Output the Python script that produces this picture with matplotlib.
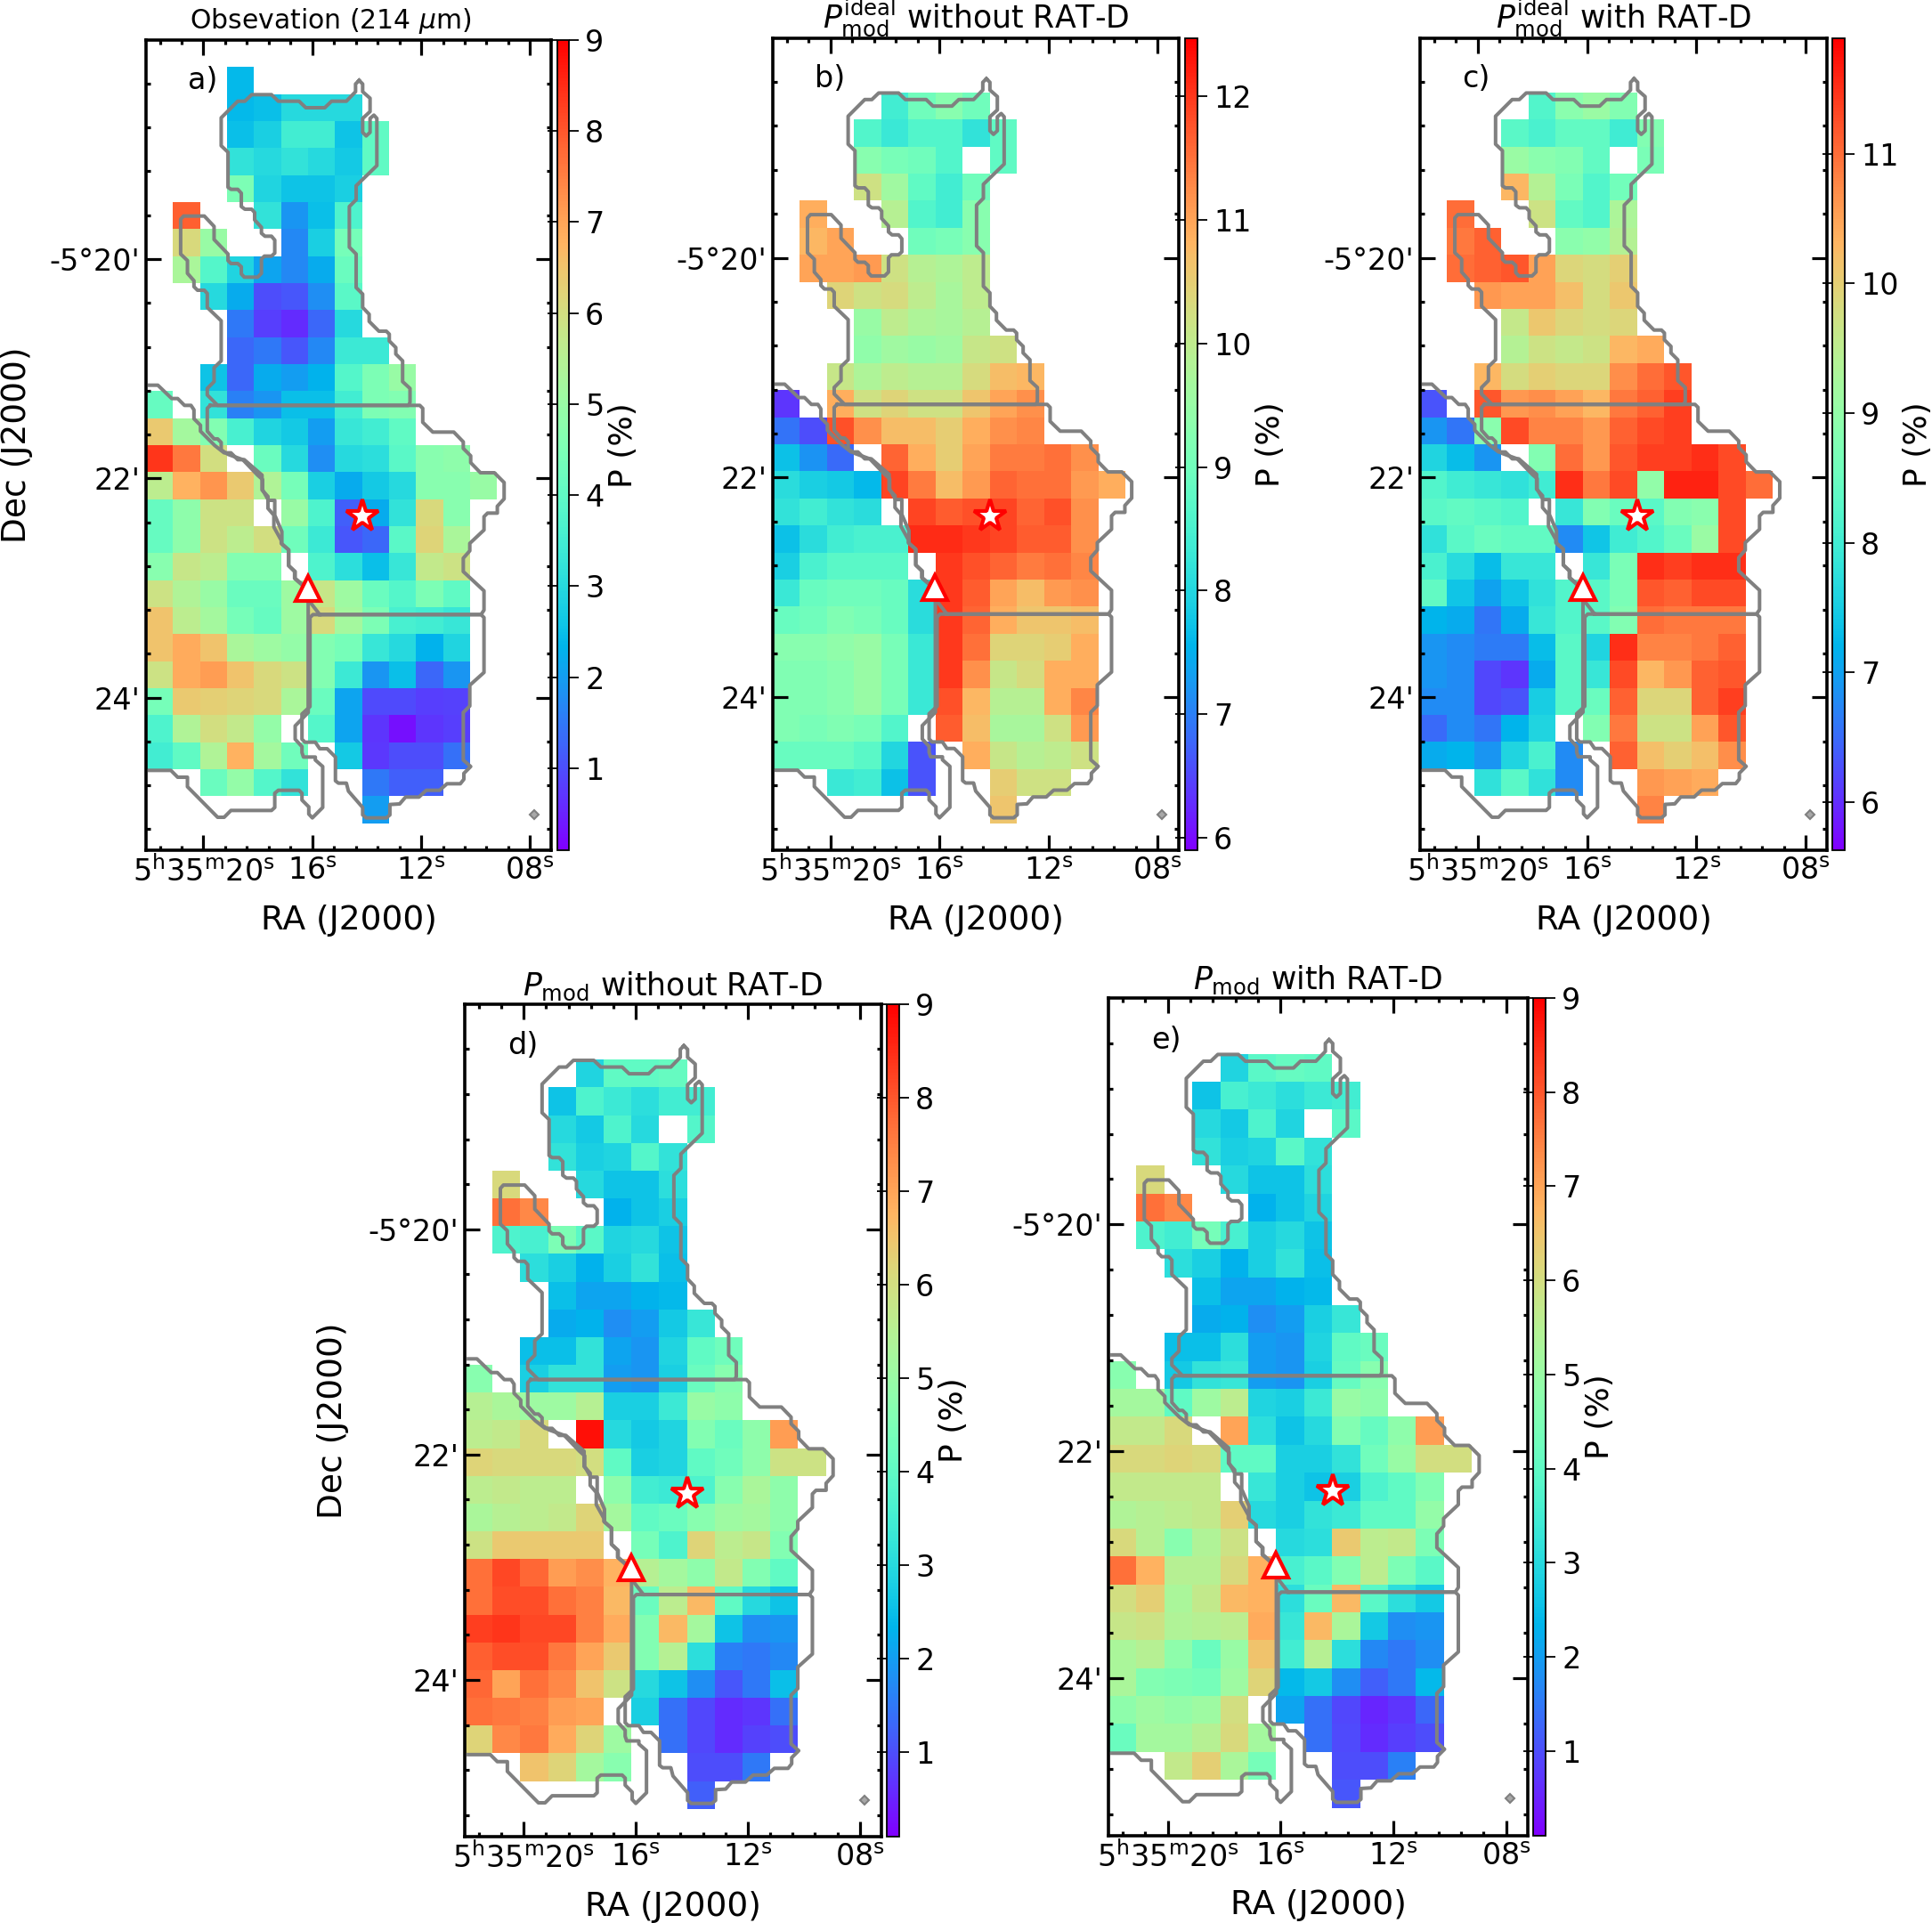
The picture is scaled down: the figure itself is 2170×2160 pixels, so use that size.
import numpy as np
import matplotlib
matplotlib.use("Agg")
import matplotlib.pyplot as plt

n = np.nan

# Polarization degree (%) per map cell; rows 1..28 of the 30x15 map, each from column 0
obs_rows = [
 [n,n,n,2.4],
 [n,n,n,2.4,2.5,3.0,3.0,3.0],
 [n,n,n,2.5,2.8,3.5,3.5,2.6,4.0],
 [n,n,n,3.2,3.0,3.2,3.0,2.7,4.0],
 [n,n,n,4.5,2.9,2.6,2.6,2.8],
 [n,7.9,n,n,3.2,1.9,2.5,3.7],
 [n,6.1,5.0,n,n,1.7,2.8,4.4],
 [n,5.3,3.8,2.9,2.1,1.7,2.2,4.2],
 [n,n,3.0,2.2,1.0,1.1,1.8,3.9],
 [n,n,n,1.5,0.8,0.6,1.3,3.0],
 [n,n,n,1.3,1.5,1.1,1.7,3.4,3.4],
 [n,n,2.6,1.3,2.2,2.0,2.3,3.8,4.5,5.0],
 [4.1,n,3.2,1.6,1.9,2.5,2.5,3.5,4.5,4.6],
 [6.4,5.2,4.6,3.6,2.9,2.7,2.0,3.3,3.5,4.0],
 [8.4,7.6,6.0,n,4.2,3.0,1.8,3.0,3.1,3.9,4.7,4.8],
 [5.6,6.8,7.2,6.4,5.4,4.4,2.8,2.2,2.7,3.0,4.7,4.7,5.0],
 [4.1,4.8,5.9,5.9,n,5.0,3.7,1.2,2.2,3.2,6.1,4.7],
 [4.1,4.8,5.9,5.6,6.0,4.3,3.4,1.1,1.3,3.9,6.2,5.3],
 [4.7,5.8,5.6,4.6,4.6,n,3.7,3.1,2.5,3.3,5.7,5.9],
 [5.9,5.4,5.0,4.2,4.2,5.1,5.8,5.1,4.2,3.8,4.5,4.0],
 [6.5,5.6,5.2,4.4,4.1,5.1,6.1,5.2,4.5,3.6,3.5,3.3],
 [6.5,6.9,6.5,5.3,5.1,4.9,4.6,4.4,3.3,3.0,2.3,2.9],
 [5.9,6.9,7.1,6.5,6.1,5.9,4.6,3.4,1.9,2.5,1.3,1.9],
 [4.4,6.4,6.3,6.2,6.1,5.3,4.2,2.1,0.95,0.95,0.8,0.85],
 [3.7,5.4,6.0,5.7,4.9,n,3.8,2.1,0.7,0.3,0.7,0.8],
 [3.5,4.0,5.4,6.8,5.2,4.3,n,2.7,0.75,1.0,1.0,1.4],
 [n,n,4.2,4.9,3.8,3.2,n,n,1.5,1.2,1.2],
 [n,n,n,n,n,n,n,n,2.0],
]
ideal_no_ratd_rows = [
 [],
 [n,n,n,n,8.4,9.0,9.3,9.0],
 [n,n,n,8.6,8.3,8.6,8.6,8.2,8.8],
 [n,n,n,9.3,9.1,9.0,8.6,n,8.8],
 [n,n,n,10.2,9.6,8.8,8.4,9.0],
 [n,10.9,n,n,9.9,8.6,8.4,9.3],
 [n,10.8,11.0,n,n,9.0,9.1,9.3],
 [n,11.0,11.0,11.1,10.2,9.9,9.8,10.0],
 [n,n,10.4,10.2,10.3,10.0,9.7,10.0],
 [n,n,n,9.5,10.0,9.8,9.7,9.9],
 [n,n,n,9.4,9.6,9.5,9.6,10.1,10.2],
 [n,n,10.1,9.8,10.0,9.9,9.9,10.3,10.7,10.8],
 [6.35,n,10.9,10.2,10.4,10.2,10.2,10.6,11.0,11.2],
 [6.9,6.55,11.8,11.2,10.7,10.7,10.5,10.9,11.2,11.3],
 [7.7,7.2,6.8,n,11.6,10.9,10.5,11.0,11.4,11.4,11.5,11.2],
 [8.1,7.9,7.8,7.6,11.9,11.4,10.7,11.1,11.6,11.5,11.5,11.1,10.9],
 [8.2,8.4,8.2,8.1,n,11.9,11.7,11.8,11.9,11.6,11.8,11.2],
 [7.7,8.1,8.4,8.5,8.5,12.1,12.1,12.0,11.9,11.7,11.7,11.2],
 [7.9,8.5,8.7,8.7,8.7,n,12.0,11.8,11.6,11.4,11.5,11.3],
 [8.3,8.9,9.0,9.0,8.9,8.1,12.0,11.7,11.0,10.7,11.1,11.2],
 [8.9,9.0,9.2,9.1,8.9,8.1,12.0,11.6,10.9,10.6,10.6,10.7],
 [9.3,9.3,9.4,9.5,9.1,8.3,12.0,11.5,10.4,10.4,10.5,10.9],
 [9.2,9.2,9.3,9.5,9.1,8.3,12.0,11.2,10.1,10.3,10.9,10.9],
 [9.2,9.2,9.3,9.5,9.1,8.3,11.8,10.8,9.9,9.9,10.9,11.3],
 [9.2,9.1,9.2,9.1,8.6,n,11.7,10.7,9.7,9.7,10.2,11.1],
 [8.9,8.9,8.9,8.7,8.0,6.6,n,10.9,10.1,9.9,10.0,10.2],
 [n,n,8.3,8.4,7.7,6.6,n,n,10.5,10.2,10.2],
 [n,n,n,n,n,n,n,n,10.6],
]
ideal_ratd_rows = [
 [],
 [n,n,n,n,8.2,8.9,9.1,8.8],
 [n,n,n,8.3,8.1,8.4,8.4,8.0,8.8],
 [n,n,n,9.1,8.9,8.8,8.4,n,8.7],
 [n,n,n,10.3,9.4,8.7,8.2,8.6],
 [n,11.0,n,n,9.7,8.4,8.2,9.3],
 [n,10.9,11.1,n,n,8.9,9.0,9.4],
 [n,11.0,11.1,11.2,10.5,9.9,9.8,10.0],
 [n,n,10.6,10.5,10.5,10.2,9.8,10.1],
 [n,n,n,9.6,10.1,9.9,9.8,9.9],
 [n,n,n,9.4,9.7,9.6,9.7,10.3,10.4],
 [n,n,10.3,9.8,10.0,9.9,9.9,10.7,11.0,11.2],
 [6.3,n,11.2,10.6,10.7,10.5,10.3,10.9,11.1,11.4],
 [6.9,6.6,8.9,11.3,10.8,10.8,10.6,11.1,11.3,11.4],
 [7.6,7.3,6.9,n,8.8,11.0,10.6,11.2,11.4,11.4,11.5,11.3],
 [8.2,8.0,7.9,7.8,8.0,11.5,10.9,11.3,9.0,11.6,11.6,11.3,11.0],
 [8.3,8.4,8.3,8.2,n,7.9,8.8,8.5,8.3,8.8,8.9,11.3],
 [7.8,8.3,8.5,8.4,8.4,6.8,7.4,8.0,8.2,8.5,9.1,11.3],
 [8.1,7.7,7.3,7.9,7.9,n,7.9,8.7,11.5,11.4,11.5,11.5],
 [8.4,7.4,7.0,7.4,7.8,8.2,8.3,8.7,11.2,11.1,11.3,11.3],
 [7.2,7.1,6.6,7.1,7.9,8.2,8.3,8.8,11.0,10.9,10.9,10.9],
 [6.9,6.8,6.65,6.65,7.3,8.3,7.6,11.5,10.8,10.8,10.9,11.1],
 [6.9,6.8,6.2,6.05,7.1,8.3,7.9,11.3,10.3,10.6,11.1,11.2],
 [6.8,6.8,6.2,6.3,7.5,8.3,8.5,11.1,9.9,9.9,11.1,11.4],
 [6.5,6.8,6.6,7.2,7.6,n,8.8,10.9,9.7,9.7,10.5,11.2],
 [7.1,7.2,6.9,7.6,8.1,6.8,n,11.1,10.2,10.0,10.2,10.7],
 [n,n,7.8,8.3,7.8,6.8,n,n,10.6,10.5,10.4],
 [n,n,n,n,n,n,n,n,10.8],
]
mod_no_ratd_rows = [
 [],
 [n,n,n,n,2.9,4.0,4.0,4.1],
 [n,n,n,2.6,3.7,3.4,3.1,3.5,3.5],
 [n,n,n,3.0,2.7,3.7,3.0,n,3.8],
 [n,n,n,3.2,2.8,2.9,3.8,3.2],
 [n,6.1,n,n,3.0,2.6,2.6,3.1],
 [n,7.7,7.4,n,n,2.3,2.6,2.8],
 [n,3.7,3.6,4.5,3.9,2.9,3.0,2.6],
 [n,n,3.1,2.8,2.3,2.8,3.2,2.5],
 [n,n,n,2.5,2.1,2.1,2.3,2.4],
 [n,n,n,2.2,2.3,1.8,2.0,2.7,3.3],
 [n,n,2.5,2.5,3.2,2.1,1.9,2.9,4.0,4.3],
 [4.7,n,2.8,3.2,3.2,2.0,1.9,2.8,4.2,4.7],
 [5.5,5.3,5.1,5.1,5.5,2.8,2.8,3.4,5.0,4.8],
 [5.6,5.7,6.1,n,8.8,3.0,2.7,2.9,4.6,4.2,4.8,7.1],
 [6.2,6.1,6.1,6.1,6.0,4.0,2.8,2.9,4.0,4.3,4.8,5.9,5.9],
 [5.6,5.7,5.6,5.6,n,4.8,3.5,3.4,3.7,4.7,5.3,4.8],
 [5.3,5.5,5.6,5.7,6.2,5.2,4.0,4.2,4.7,5.1,5.2,4.8],
 [5.9,6.4,6.4,6.4,6.4,n,4.4,3.7,6.2,5.6,5.8,4.6],
 [7.7,8.2,7.8,7.1,7.3,6.8,5.5,5.2,4.8,5.7,4.6,4.0],
 [7.7,8.1,8.1,7.7,7.5,6.7,4.2,5.6,6.7,4.0,3.0,2.6],
 [8.3,8.4,8.2,8.2,7.5,6.9,4.6,6.7,5.2,2.6,1.8,1.9],
 [7.9,8.1,8.1,7.6,7.0,6.4,4.6,5.5,3.1,1.6,1.5,1.7],
 [7.8,7.0,7.7,7.4,6.5,5.9,3.0,2.6,1.8,1.1,1.5,2.5],
 [7.7,7.6,7.5,7.1,7.0,n,2.8,1.4,0.9,0.6,0.7,1.4],
 [6.2,7.4,7.6,6.9,6.2,5.1,n,1.4,0.9,0.6,0.85,1.0],
 [n,n,6.5,6.2,5.2,4.7,n,n,1.0,1.0,1.5],
 [n,n,n,n,n,n,n,n,1.2],
]
mod_ratd_rows = [
 [],
 [n,n,n,n,2.9,3.9,4.1,4.0],
 [n,n,n,2.6,3.6,3.4,3.1,3.4,3.5],
 [n,n,n,3.0,2.7,3.7,2.9,n,3.9],
 [n,n,n,3.2,2.8,2.9,3.9,3.2],
 [n,6.1,n,n,3.0,2.6,2.6,3.1],
 [n,7.7,7.4,n,n,2.3,2.6,2.9],
 [n,3.7,3.5,4.4,3.6,2.8,3.0,2.6],
 [n,n,3.1,2.8,2.3,2.8,3.2,2.5],
 [n,n,n,2.5,2.1,2.1,2.3,2.4],
 [n,n,n,2.2,2.3,1.8,2.0,2.8,3.3],
 [n,n,2.5,2.5,3.1,2.0,1.9,2.9,4.0,4.2],
 [4.7,n,2.7,3.2,3.3,2.0,1.9,2.8,4.1,4.7],
 [5.2,5.2,4.0,5.1,5.6,2.9,2.8,3.4,5.0,4.8],
 [5.7,5.7,6.1,n,7.0,3.1,2.6,3.0,4.6,4.1,4.8,7.1],
 [6.1,6.1,6.2,6.1,4.0,4.0,2.8,2.8,3.2,4.3,5.0,6.0,6.0],
 [5.7,5.7,5.7,5.7,n,3.3,2.8,2.6,2.8,3.7,4.0,4.6],
 [5.4,5.5,5.6,5.7,6.3,3.0,2.8,3.2,3.4,4.0,4.0,4.9],
 [6.1,5.5,4.7,5.4,5.9,n,3.0,3.1,6.4,5.6,5.7,4.5],
 [7.7,6.8,5.5,5.5,6.1,6.8,3.6,3.9,4.6,5.6,4.5,3.9],
 [6.0,6.3,5.3,5.7,6.7,6.8,3.1,4.2,6.7,3.9,3.1,2.7],
 [5.8,5.9,5.4,5.5,5.6,6.9,3.3,6.7,5.3,2.7,1.8,1.9],
 [5.3,5.5,4.8,4.2,5.0,6.5,3.5,5.5,3.1,1.7,1.5,1.8],
 [5.3,4.6,4.5,4.4,5.1,6.2,2.4,2.7,1.8,1.2,1.5,2.4],
 [4.8,5.1,4.9,5.1,6.0,n,2.1,1.4,0.9,0.55,0.7,1.3],
 [4.2,5.2,5.2,5.5,6.1,5.2,n,1.4,0.95,0.6,0.8,1.0],
 [n,n,5.7,6.3,5.3,4.4,n,n,1.0,1.0,1.6],
 [n,n,n,n,n,n,n,n,1.1],
]

titles = ["Obsevation (214 $\\mu$m)",
          "$P_{\\rm mod}^{\\rm ideal}$ without RAT-D",
          "$P_{\\rm mod}^{\\rm ideal}$ with RAT-D",
          "$P_{\\rm mod}$ without RAT-D",
          "$P_{\\rm mod}$ with RAT-D"]
title_sizes = [21.5, 25, 25, 25, 25]
title_x = [0.455, 0.5, 0.5, 0.5, 0.5]
title_pads = [9, 6, 6, 7, 7]
panel_tags = ["a)", "b)", "c)", "d)", "e)"]
ylabel_pads = [13, None, None, 15, None]
vmins = [0.1, 5.9, 5.63, 0.1, 0.1]
vmaxs = [9.0, 12.47, 11.89, 9.0, 9.0]
cbar_ticks = [list(range(1, 10)), list(range(6, 13)), list(range(6, 12)),
              list(range(1, 10)), list(range(1, 10))]

# Axes and colorbar boxes in figure pixels: left, right, top, bottom, cbar left, cbar right
W, H = 2170, 2160
boxes = [(164, 619, 45, 955, 626, 639),
         (868, 1324, 43, 955, 1331, 1345),
         (1595, 2052, 43, 955, 2058, 2072),
         (522, 990, 1128, 2063, 996, 1010),
         (1245, 1716, 1121, 2062, 1722, 1736)]

contour_main_x = [788,776,776,745,695,672,608,585,515,492,425,402,378,322,322,345,345,355,378,390,390,402,425,435,435,458,458,470,492,503,503,492,468,458,458,445,400,390,390,378,355,345,345,298,298,265,195,185,185,208,208,230,230,242,265,275,275,322,322,298,298,275,275,310,955,960,960,935,935,912,912,890,890,880,855,822,822,800,800,778,778,755,755,778,778,848,848,838,825,825,812,800,800,825,825,800,800,788]
contour_main_y = [180,192,218,250,250,272,272,250,250,228,228,250,250,306,400,422,540,547,547,560,605,614,614,625,650,675,695,705,705,718,762,772,772,782,830,843,843,832,808,797,797,787,765,716,672,637,637,648,765,787,830,855,875,887,887,898,945,990,1125,1148,1195,1218,1240,1275,1275,1265,1218,1195,1125,1102,1080,1058,1035,1025,1025,992,968,945,900,878,765,742,605,582,535,467,308,297,308,355,367,355,308,285,240,218,192,180]
contour_band_x = [285,275,275,298,310,322,322,345,395,445,462,462,482,503,503,527,527,550,550,572,572,598,620,655,1200,1210,1210,1140,1140,1162,1162,1210,1210,1222,1255,1255,1278,1278,1245,1198,1165,1165,1140,1140,1108,1037,1003,1003,993,285]
contour_band_y = [1275,1285,1362,1388,1388,1400,1425,1440,1458,1510,1525,1560,1595,1595,1645,1700,1742,1762,1815,1835,1858,1880,1935,1980,1980,1965,1900,1835,1790,1765,1740,1695,1650,1638,1638,1615,1590,1535,1502,1502,1468,1445,1420,1398,1365,1365,1332,1285,1275,1275]
contour_south_x = [655,1200,1210,1210,1162,1162,1140,1140,1165,1142,1142,1130,1085,1060,1015,990,945,925,892,892,880,812,800,800,752,745,718,708,708,680,655,640,605,595,595,622,622,632,655]
contour_south_y = [1980,1980,1990,2175,2218,2288,2310,2470,2492,2515,2535,2550,2550,2572,2572,2595,2595,2618,2620,2655,2665,2665,2655,2630,2575,2548,2548,2540,2460,2432,2432,2410,2410,2400,2315,2290,1990,1980,1980]
contour_west_x = [80,108,155,175,198,220,230,230,252,252,300,332,355,378,400,460,460,480,480,500,500,525,525,550,550,570,570,595,616,616,572,572,595,595,600,640,640,665,665,630,618,618,595,595,585,515,503,503,492,355,332,310,208,208,175,152,80]
contour_west_y = [1207,1207,1252,1252,1275,1275,1290,1320,1342,1362,1410,1435,1435,1458,1458,1510,1560,1582,1622,1645,1685,1730,1740,1762,1815,1835,1858,1880,1935,2310,2355,2400,2425,2445,2460,2460,2470,2492,2630,2665,2652,2628,2605,2582,2572,2572,2582,2630,2640,2640,2663,2663,2560,2528,2528,2505,2505]

# Source positions and beam in map units
star_x, star_y = 800, 1650
triangle_x, triangle_y = 615, 1892
beam_x, beam_y = 1380, 2653
tag_x, tag_y = 208, 208

ra_seconds = [20, 16, 12, 8]
ra_labels = ["5$^{\\rm h}$35$^{\\rm m}$20$^{\\rm s}$", "16$^{\\rm s}$", "12$^{\\rm s}$", "08$^{\\rm s}$"]
dec_minutes = [20, 22, 24]
dec_labels = ["-5\u00b020'", "22'", "24'"]


def mx(v):
    return (np.asarray(v, float) - 68.0) / 91.25 - 0.5


def my(v):
    return (np.asarray(v, float) - 44.0) / 91.0 - 0.5


def ra2x(s):
    return 1.626 + (20.0 - np.asarray(s, float)) * 1.008


def dec2y(m):
    return 7.61 + (np.asarray(m, float) - 20.0) * 4.06


def to_grid(rows):
    g = np.full((30, 15), np.nan)
    for i, row in enumerate(rows):
        g[i + 1, :len(row)] = row
    return g


panels = [obs_rows, ideal_no_ratd_rows, ideal_ratd_rows, mod_no_ratd_rows, mod_ratd_rows]

plt.rcParams['font.family'] = 'DejaVu Sans'
fig = plt.figure(figsize=(W / 100, H / 100), dpi=100, facecolor='white')

for i, rows in enumerate(panels):
    L, R, T, B, CL, CR = boxes[i]
    ax = fig.add_axes([L / W, 1 - B / H, (R - L) / W, (B - T) / H])
    im = ax.imshow(to_grid(rows), cmap='rainbow', vmin=vmins[i], vmax=vmaxs[i],
                   origin='upper', aspect='auto', interpolation='nearest',
                   extent=(-0.5, 14.5, 29.5, -0.5))
    for cx, cy in ((contour_main_x, contour_main_y), (contour_band_x, contour_band_y),
                   (contour_south_x, contour_south_y), (contour_west_x, contour_west_y)):
        ax.plot(mx(cx), my(cy), color='#808080', lw=2.9, solid_joinstyle='round', zorder=3)
    ax.plot(mx(star_x), my(star_y), marker='*', ms=27, mfc='white', mec='red', mew=3, zorder=5, ls='none')
    ax.plot(mx(triangle_x), my(triangle_y), marker='^', ms=20, mfc='white', mec='red', mew=3, zorder=5, ls='none')
    ax.plot(mx(beam_x), my(beam_y), marker='D', ms=5, mfc='#a8a8a8', mec='#808080', mew=1.5, zorder=4, ls='none')
    ax.text(mx(tag_x), my(tag_y), panel_tags[i], fontsize=24, va='baseline', ha='left')
    ax.set_xlim(-0.5, 14.5)
    ax.set_ylim(29.5, -0.5)

    ax.set_xticks(ra2x(ra_seconds))
    ax.set_xticklabels(ra_labels)
    ax.set_yticks(dec2y(dec_minutes))
    ax.set_yticklabels(dec_labels)
    sm = np.arange(7.2, 22.0, 0.8)
    ax.set_xticks(ra2x(sm)[(ra2x(sm) > -0.5) & (ra2x(sm) < 14.5)], minor=True)
    dm = np.arange(17.6, 26.6, 0.4)
    ax.set_yticks(dec2y(dm)[(dec2y(dm) > -0.5) & (dec2y(dm) < 29.5)], minor=True)
    ax.tick_params(which='major', direction='in', top=True, right=True, length=12.5, width=2.3,
                   labelsize=24, pad=5)
    ax.tick_params(which='minor', direction='in', top=True, right=True, length=3.5, width=2.3)
    for s in ax.spines.values():
        s.set_linewidth(2.6)
    ax.set_xlabel("RA (J2000)", fontsize=27, labelpad=13)
    if ylabel_pads[i] is not None:
        ax.set_ylabel("Dec (J2000)", fontsize=27, labelpad=ylabel_pads[i])
    ax.set_title(titles[i], fontsize=title_sizes[i], pad=title_pads[i], x=title_x[i])

    cax = fig.add_axes([CL / W, 1 - B / H, (CR - CL) / W, (B - T) / H])
    cb = fig.colorbar(im, cax=cax)
    cb.set_ticks(cbar_ticks[i])
    cb.ax.tick_params(which='major', left=True, right=True, direction='out', length=8, width=1.3, labelsize=24, pad=5)
    cb.ax.minorticks_off()
    cb.outline.set_linewidth(1.3)
    cb.set_label("P (%)", fontsize=26, labelpad=3)

fig.savefig("out.png", dpi=100)
